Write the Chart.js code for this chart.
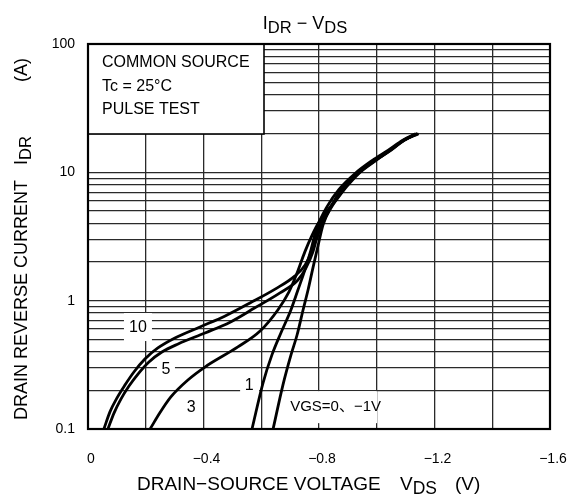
<!DOCTYPE html>
<html><head><meta charset="utf-8">
<script src="https://cdn.jsdelivr.net/npm/chart.js@4"></script>
<style>html,body{margin:0;padding:0;background:#fff}#wrap{width:574px;height:499px}</style>
</head><body><div id="wrap"><canvas id="c" width="574" height="499"></canvas></div>
<script>
// ---- axis ticks / grid ----
const xTickValues = [0, -0.4, -0.8, -1.2, -1.6];
const xTickLabels = ['0', '\u22120.4', '\u22120.8', '\u22121.2', '\u22121.6'];
const xGridValues = [0, -0.2, -0.4, -0.6, -0.8, -1.0, -1.2, -1.4, -1.6];
const yTickValues = [0.1, 1, 10, 100];
const yTickLabels = ['0.1', '1', '10', '100'];
const yGridValues = [0.1,0.2,0.3,0.4,0.5,0.6,0.7,0.8,0.9,1,2,3,4,5,6,7,8,9,10,20,30,40,50,60,70,80,90,100];

// ---- series (V_DS in V, I_DR in A) ----
const vgs10_V = [-0.055,-0.076,-0.100,-0.128,-0.159,-0.197,-0.242,-0.301,-0.388,-0.475,-0.561,-0.648,-0.717,-0.752,-0.776,-0.790,-0.805,-0.850,-0.885,-0.930,-0.990,-1.045,-1.090,-1.140];
const vgs10_I = [0.1,0.136,0.174,0.22,0.278,0.351,0.428,0.512,0.624,0.76,0.96,1.23,1.56,1.9,2.5,3.2,4.0,5.8,7.4,9.6,12.2,14.8,17.6,20];
const vgs5_V  = [-0.069,-0.090,-0.114,-0.142,-0.173,-0.211,-0.256,-0.312,-0.405,-0.492,-0.578,-0.665,-0.727,-0.755,-0.779,-0.793,-0.810,-0.855,-0.890,-0.935,-0.995,-1.050,-1.095,-1.140];
const vgs5_I  = [0.1,0.133,0.171,0.216,0.268,0.333,0.398,0.46,0.56,0.68,0.88,1.15,1.45,1.8,2.4,3.1,3.9,5.9,7.6,9.8,12.4,14.9,17.8,20];
const vgs3_V  = [-0.215,-0.250,-0.287,-0.345,-0.405,-0.519,-0.596,-0.658,-0.696,-0.724,-0.751,-0.775,-0.800,-0.860,-0.895,-0.940,-1.000,-1.050,-1.095,-1.140];
const vgs3_I  = [0.1,0.135,0.178,0.24,0.304,0.436,0.58,0.85,1.17,1.64,2.4,3.2,4.1,6.1,7.7,9.9,12.5,15.0,17.9,20];
const vgs1_V  = [-0.568,-0.606,-0.637,-0.668,-0.703,-0.727,-0.751,-0.772,-0.790,-0.830,-0.870,-0.925,-0.985,-1.040,-1.090,-1.135];
const vgs1_I  = [0.1,0.228,0.378,0.56,0.85,1.21,1.73,2.48,3.55,5.5,7.4,9.8,12.4,14.9,17.8,20];
const vgs0_V  = [-0.641,-0.675,-0.703,-0.724,-0.745,-0.762,-0.779,-0.797,-0.814,-0.845,-0.880,-0.930,-0.990,-1.045,-1.095,-1.145];
const vgs0_I  = [0.1,0.22,0.378,0.54,0.85,1.21,1.8,2.7,3.9,5.6,7.5,9.8,12.4,14.9,17.8,20];

// ---- in-plot labels (anchor in data units) ----
const curveLabels = [
  {text:'10', v:-0.173, i:0.612, align:'center', size:16, bx:-14, by:-15, bw:28, bh:28},
  {text:'5',  v:-0.270, i:0.288, align:'center', size:16, bx:-9,  by:-9,  bw:18, bh:18},
  {text:'1',  v:-0.558, i:0.216, align:'center', size:16, bx:-9,  by:-10, bw:19, bh:20},
  {text:'3',  v:-0.357, i:0.148, align:'center', size:16, bx:-7,  by:-9,  bw:14, bh:18},
  {text:'VGS=0\u3001\u22121V', v:-0.700, i:0.148, align:'left', size:15, bx:-5, by:-16, bw:92, bh:32}
];
const legendLines = ['COMMON SOURCE', 'Tc = 25\u00B0C', 'PULSE TEST'];

const FONT = "'Liberation Sans', Arial, 'Noto Sans CJK JP', sans-serif";
const pts = (V, I) => V.map((v, k) => ({x: v, y: I[k]}));

function drawParts(ctx, parts, size) {
  let x = 0;
  for (const p of parts) {
    if (p.at !== undefined) x = p.at;
    if (p.gap) { x += p.gap; continue; }
    const fs = p.sub ? size * 0.92 : size;
    ctx.font = fs + 'px ' + FONT;
    ctx.fillText(p.t, x, p.sub ? 4 : 0);
    x += ctx.measureText(p.t).width;
  }
  return x;
}
function partsWidth(ctx, parts, size) {
  let x = 0;
  for (const p of parts) {
    if (p.gap) { x += p.gap; continue; }
    ctx.font = (p.sub ? size * 0.92 : size) + 'px ' + FONT;
    x += ctx.measureText(p.t).width;
  }
  return x;
}

const textPlugin = {
  id: 'texts',
  beforeDatasetsDraw(chart) {
    const {ctx, chartArea: a, scales: {x, y}} = chart;
    ctx.save();
    ctx.fillStyle = '#fff';
    ctx.fillRect(a.left, a.top, 176, 90);
    ctx.strokeStyle = '#000'; ctx.lineWidth = 1.6;
    ctx.strokeRect(a.left, a.top, 176, 90);
    ctx.fillStyle = '#000';
    ctx.font = '16px ' + FONT; ctx.textBaseline = 'alphabetic'; ctx.textAlign = 'left';
    legendLines.forEach((t, k) => ctx.fillText(t, a.left + 14, a.top + 23 + k * 23.5));
    for (const L of curveLabels) {
      const px = x.getPixelForValue(L.v), py = y.getPixelForValue(L.i);
      ctx.fillStyle = '#fff';
      ctx.fillRect(px + L.bx, py + L.by, L.bw, L.bh);
      ctx.fillStyle = '#000';
      ctx.font = L.size + 'px ' + FONT; ctx.textBaseline = 'middle'; ctx.textAlign = L.align;
      ctx.fillText(L.text, px, py);
    }
    ctx.restore();
  },
  afterDatasetsDraw(chart) {
    const {ctx, chartArea: a} = chart;
    ctx.save();
    ctx.strokeStyle = '#000'; ctx.lineWidth = 2.2;
    ctx.strokeRect(a.left, a.top, a.right - a.left, a.bottom - a.top);
    ctx.restore();
  },
  afterDraw(chart) {
    const {ctx} = chart;
    ctx.save();
    ctx.fillStyle = '#000'; ctx.textAlign = 'left'; ctx.textBaseline = 'alphabetic';
    const tParts = [{t:'I'},{t:'DR',sub:true},{t:' \u2212 '},{t:'V'},{t:'DS',sub:true}];
    const tw = partsWidth(ctx, tParts, 18);
    ctx.save(); ctx.translate(305 - tw / 2, 29); drawParts(ctx, tParts, 18); ctx.restore();
    const xParts = [{t:'DRAIN\u2212SOURCE VOLTAGE'},{at:263,t:'V'},{t:'DS',sub:true},{at:318,t:'(V)'}];
    ctx.save(); ctx.translate(137, 490); drawParts(ctx, xParts, 19); ctx.restore();
    const yParts = [{t:'DRAIN REVERSE CURRENT'},{at:255,t:'I'},{t:'DR',sub:true},{at:338,t:'(A)'}];
    ctx.save(); ctx.translate(27, 420); ctx.rotate(-Math.PI / 2); drawParts(ctx, yParts, 18); ctx.restore();
    ctx.restore();
  }
};

const mk = (V, I) => ({data: pts(V, I), borderColor: '#000', borderWidth: 2.8, pointRadius: 0, cubicInterpolationMode: 'monotone', fill: false});

new Chart(document.getElementById('c'), {
  type: 'line',
  data: {datasets: [mk(vgs10_V, vgs10_I), mk(vgs5_V, vgs5_I), mk(vgs3_V, vgs3_I), mk(vgs1_V, vgs1_I), mk(vgs0_V, vgs0_I)]},
  options: {
    responsive: false, animation: false, devicePixelRatio: 1,
    layout: {padding: {left: 0, right: 24, top: 44, bottom: 0}},
    plugins: {legend: {display: false}, title: {display: false}, tooltip: {enabled: false}},
    scales: {
      x: {
        type: 'linear', reverse: true, min: -1.6, max: 0,
        afterBuildTicks: s => { s.ticks = xGridValues.map(v => ({value: v})); },
        afterFit: s => { s.height = 70; s.paddingLeft = 0; s.paddingRight = 0; },
        grid: {color: '#2a2a2a', lineWidth: 1.3, drawTicks: false},
        border: {display: false},
        ticks: {autoSkip: false, maxRotation: 0, padding: 22, labelOffset: 3, color: '#000', font: {family: FONT, size: 14},
          callback: v => { const k = xTickValues.findIndex(t => Math.abs(t - v) < 1e-9); return k >= 0 ? xTickLabels[k] : ''; }}
      },
      y: {
        type: 'logarithmic', min: 0.1, max: 100,
        afterBuildTicks: s => { s.ticks = yGridValues.map(v => ({value: v})); },
        afterFit: s => { s.width = 88; s.paddingTop = 0; s.paddingBottom = 0; },
        grid: {color: '#2a2a2a', lineWidth: 1.3, drawTicks: false},
        border: {display: false},
        ticks: {autoSkip: false, padding: 13, color: '#000', font: {family: FONT, size: 14},
          callback: v => { const k = yTickValues.findIndex(t => Math.abs(t - v) < 1e-9); return k >= 0 ? yTickLabels[k] : ''; }}
      }
    }
  },
  plugins: [textPlugin]
});
</script></body></html>
